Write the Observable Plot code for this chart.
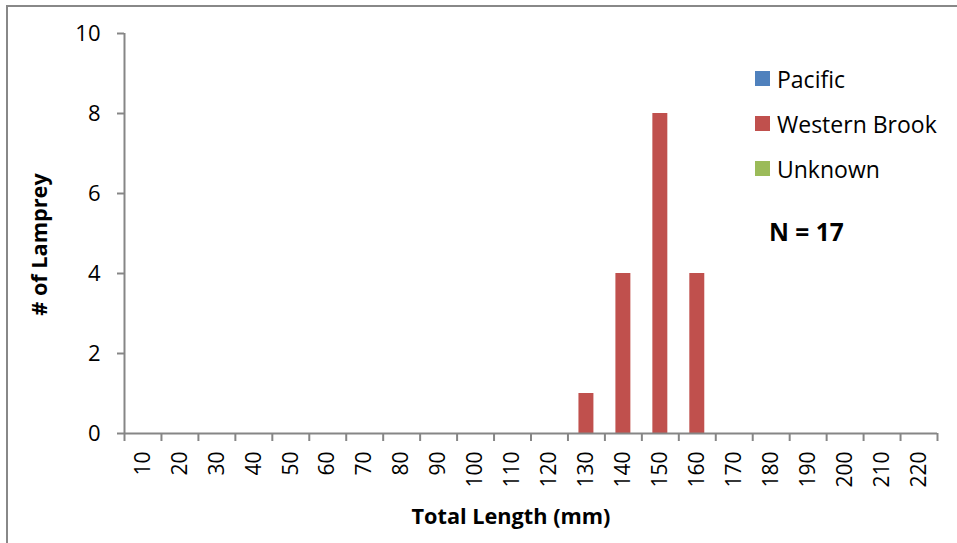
<!DOCTYPE html>
<html>
<head>
<meta charset="utf-8">
<script src="https://cdn.jsdelivr.net/npm/d3@7"></script>
<script src="https://cdn.jsdelivr.net/npm/@observablehq/plot@0.6"></script>
<style>
  html, body { margin: 0; padding: 0; background: #fff; }
  body { width: 957px; height: 543px; position: relative; overflow: hidden; font-family: "Open Sans", sans-serif; }
  #frame { position: absolute; left: 6px; top: 5px; width: 960px; height: 560px; border: 2px solid #888; box-sizing: border-box; border-right: none; border-bottom: none; }
  #chart { position: absolute; left: 0; top: 0; }
  #legend { position: absolute; left: 755px; top: 56px; font-size: 23px; color: #000; }
  .item { display: flex; align-items: center; height: 45px; }
  .sw { width: 15px; height: 15px; margin-right: 7px; }
  #ncount { position: absolute; left: 769px; top: 215px; font-size: 24.5px; line-height: 34px; font-weight: bold; }
</style>
</head>
<body>
<div id="frame"></div>
<div id="chart"></div>
<div id="legend"></div>
<div id="ncount"></div>
<script>
const categories = ["10","20","30","40","50","60","70","80","90","100","110","120","130","140","150","160","170","180","190","200","210","220"];
const seriesNames = ["Pacific", "Western Brook", "Unknown"];
const pacific      = [0,0,0,0,0,0,0,0,0,0,0,0,0,0,0,0,0,0,0,0,0,0];
const westernBrook = [0,0,0,0,0,0,0,0,0,0,0,0,1,4,8,4,0,0,0,0,0,0];
const unknown      = [0,0,0,0,0,0,0,0,0,0,0,0,0,0,0,0,0,0,0,0,0,0];
const seriesColors = ["#4F81BD", "#C0504D", "#9BBB59"];
const yTicks = [0, 2, 4, 6, 8, 10];
const xTitle = "Total Length (mm)";
const yTitle = "# of Lamprey";
const nLabel = "N = 17";

const seriesValues = [pacific, westernBrook, unknown];
const data = [];
categories.forEach((c, i) => {
  seriesNames.forEach((s, j) => data.push({cat: c, series: s, value: seriesValues[j][i]}));
});

const W = 957, H = 543;
const mL = 124, mR = 20, mT = 33, mB = 110;
const step = (W - mL - mR) / categories.length;
const half = step / 2;
const axisColor = "#868686";
const font = "Open Sans, sans-serif";

const plot = Plot.plot({
  width: W,
  height: H,
  marginLeft: mL,
  marginRight: mR,
  marginTop: mT,
  marginBottom: mB,
  style: {fontFamily: font, fontSize: "21px", color: "#000", background: "transparent"},
  x: {domain: categories, paddingInner: 0.595, paddingOuter: 0.2975, round: false, label: null, axis: null},
  y: {domain: [0, 10], label: null, axis: null},
  color: {domain: seriesNames, range: seriesColors},
  marks: [
    Plot.barY(data, {x: "cat", y: "value", fill: "series", order: seriesNames}),
    // x axis line
    Plot.ruleY([0], {stroke: axisColor, strokeWidth: 2}),
    // y axis line
    Plot.ruleX([categories[0]], {y1: 0, y2: 10, dx: -half, stroke: axisColor, strokeWidth: 2}),
    // x ticks at band boundaries
    Plot.ruleX(categories, {x: d => d, y1: 0, y2: 0, dx: -half, insetBottom: -8, stroke: axisColor, strokeWidth: 2}),
    Plot.ruleX(categories.slice(-1), {x: d => d, y1: 0, y2: 0, dx: half, insetBottom: -8, stroke: axisColor, strokeWidth: 2}),
    // y axis ticks and labels
    Plot.axisY({ticks: yTicks, tickSize: 7, tickPadding: 17, stroke: axisColor, strokeWidth: 2, fill: "#000", fontSize: 22, label: null}),
    // x labels
    Plot.axisX({tickSize: 0, tickRotate: -90, tickPadding: 18, fill: "#000", fontSize: 21, label: null}),
    Plot.text([xTitle], {frameAnchor: "bottom", dy: 90, dx: -20, text: d => d, fontWeight: "bold", fontSize: 21.7}),
    Plot.text([yTitle], {frameAnchor: "left", textAnchor: "middle", dx: -84, dy: 11, rotate: -90, text: d => d, fontWeight: "bold", fontSize: 21.7})
  ]
});
document.getElementById("chart").appendChild(plot);

const legend = document.getElementById("legend");
seriesNames.forEach((s, i) => {
  const it = document.createElement("div");
  it.className = "item";
  const sw = document.createElement("div");
  sw.className = "sw";
  sw.style.background = seriesColors[i];
  const t = document.createElement("span");
  t.textContent = s;
  it.appendChild(sw); it.appendChild(t);
  legend.appendChild(it);
});
document.getElementById("ncount").textContent = nLabel;
</script>
</body>
</html>
